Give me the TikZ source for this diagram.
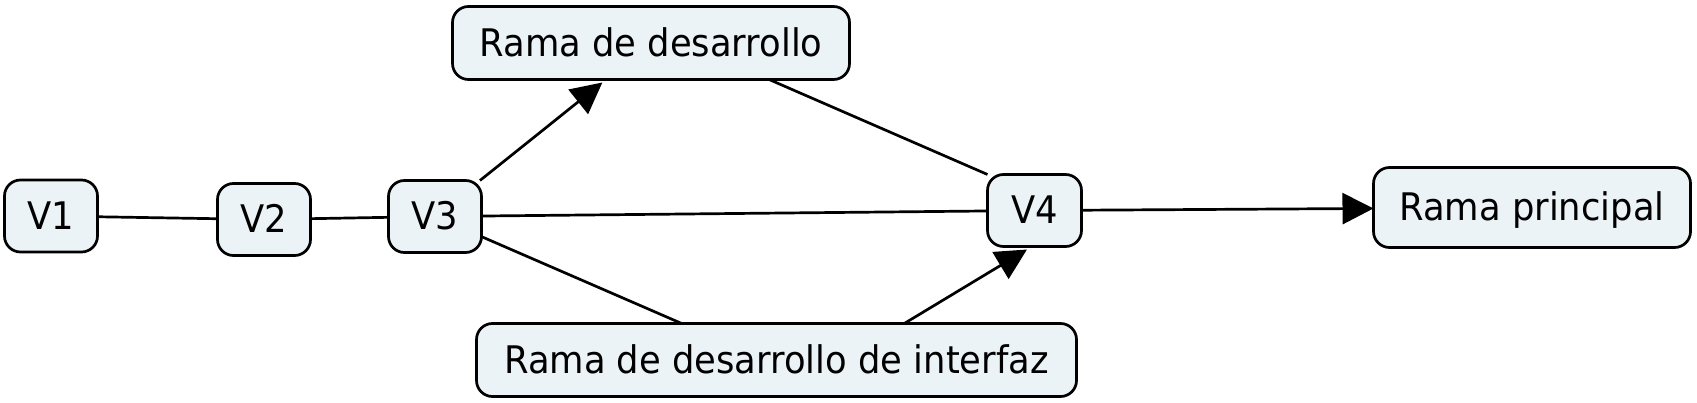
\documentclass[tikz,border=0pt]{standalone}
\usepackage{fontspec}
\setmainfont{DejaVu Sans}[FakeStretch=0.93]
\usetikzlibrary{arrows.meta,calc}
\definecolor{boxfill}{RGB}{236,243,246}
\tikzset{
  box/.style={draw=black, fill=boxfill, line width=2.7pt, rounded corners=16pt,
    inner sep=0pt, outer sep=0pt, text height=27pt, text depth=0pt,
    font=\fontsize{38pt}{44pt}\selectfont},
  conn/.style={draw=black, line width=2.7pt},
  arr/.style={conn, -{Triangle[length=31pt,width=31pt]}}
}
\begin{document}
\begin{tikzpicture}[x=1pt,y=-1pt]
\useasboundingbox (0,0) rectangle (1697,403);
\node[box, minimum width=93pt, minimum height=72pt] (v1) at (51,216) {V1};
\node[box, minimum width=93pt, minimum height=72pt] (v2) at (264,219.5) {V2};
\node[box, minimum width=93pt, minimum height=72pt] (v3) at (435,216.5) {V3};
\node[box, minimum width=94pt, minimum height=72pt] (v4) at (1034.5,210.5) {V4};
\node[box, minimum width=397pt, minimum height=73pt] (dev) at (651,43) {Rama de desarrollo};
\node[box, minimum width=317pt, minimum height=80pt] (main) at (1532,207.5) {Rama principal};
\node[box, minimum width=600pt, minimum height=73pt] (iface) at (776.5,360) {Rama de desarrollo de interfaz};
\coordinate (devin) at ($(dev.south west)!0.3775!(dev.south east)+(0,3)$);
\coordinate (devout) at ($(dev.south west)!0.7975!(dev.south east)$);
\coordinate (ifin) at ($(iface.north west)!0.342!(iface.north east)$);
\coordinate (ifout) at ($(iface.north west)!0.713!(iface.north east)$);
\coordinate (v4in) at ($(v4.south west)!0.42!(v4.south east)+(0,3)$);
\draw[conn] (v1) -- (v2);
\draw[conn] (v2) -- (v3);
\draw[conn] (v3) -- (v4);
\draw[arr] (v3) -- (devin);
\draw[conn] (devout) -- (v4.north west);
\draw[conn] (v3) -- (ifin);
\draw[arr] (ifout) -- (v4in);
\draw[arr] (v4) -- (main);
\end{tikzpicture}
\end{document}
